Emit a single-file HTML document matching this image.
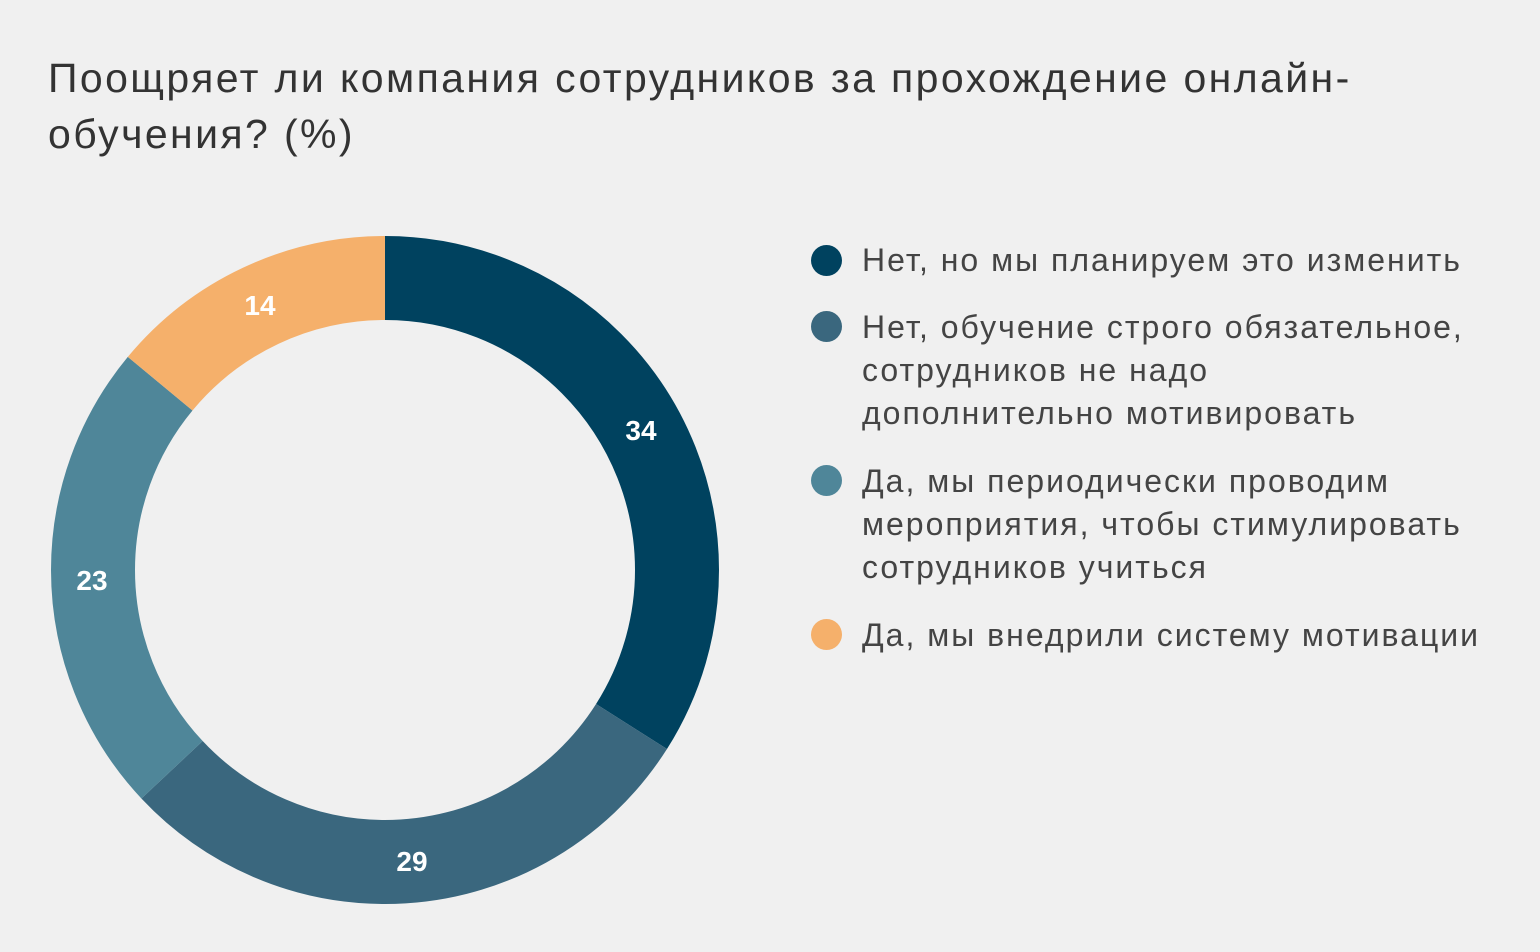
<!DOCTYPE html>
<html><head><meta charset="utf-8"><style>
body{margin:0;width:1540px;height:952px;background:#f0f0f0;font-family:"Liberation Sans",sans-serif;position:relative;overflow:hidden}
.t{position:absolute;left:48px;top:50px;font-size:41px;line-height:56px;color:#333;letter-spacing:2.4px;white-space:nowrap}
.l{position:absolute;left:862px;font-size:32px;line-height:43px;color:#444;letter-spacing:2px;white-space:nowrap}
.d{position:absolute;left:811px;width:31px;height:31px;border-radius:50%}
</style></head><body>
<div class="t">Поощряет ли компания сотрудников за прохождение онлайн-<br>обучения? (%)</div>
<svg width="1540" height="952" style="position:absolute;left:0;top:0">
<g transform="rotate(-90 385 570)" fill="none" stroke-width="84">
<circle cx="385" cy="570" r="292" stroke="#00425f" stroke-dasharray="623.8 1834.7" stroke-dashoffset="0"/>
<circle cx="385" cy="570" r="292" stroke="#3a677e" stroke-dasharray="532.1 1834.7" stroke-dashoffset="-623.8"/>
<circle cx="385" cy="570" r="292" stroke="#4f8699" stroke-dasharray="422 1834.7" stroke-dashoffset="-1155.9"/>
<circle cx="385" cy="570" r="292" stroke="#f5b06b" stroke-dasharray="256.9 1834.7" stroke-dashoffset="-1577.9"/>
</g>
<g fill="#fff" font-family="Liberation Sans, sans-serif" font-weight="bold" font-size="28" text-anchor="middle">
<text x="641" y="440">34</text>
<text x="412" y="871">29</text>
<text x="92" y="590">23</text>
<text x="260" y="315">14</text>
</g>
</svg>
<div class="d" style="top:245px;background:#00425f"></div>
<div class="l" style="top:239px">Нет, но мы планируем это изменить</div>
<div class="d" style="top:311px;background:#3a677e"></div>
<div class="l" style="top:306px">Нет, обучение строго обязательное,<br>сотрудников не надо<br>дополнительно мотивировать</div>
<div class="d" style="top:465px;background:#4f8699"></div>
<div class="l" style="top:460px">Да, мы периодически проводим<br>мероприятия, чтобы стимулировать<br>сотрудников учиться</div>
<div class="d" style="top:619px;background:#f5b06b"></div>
<div class="l" style="top:614px">Да, мы внедрили систему мотивации</div>
</body></html>
